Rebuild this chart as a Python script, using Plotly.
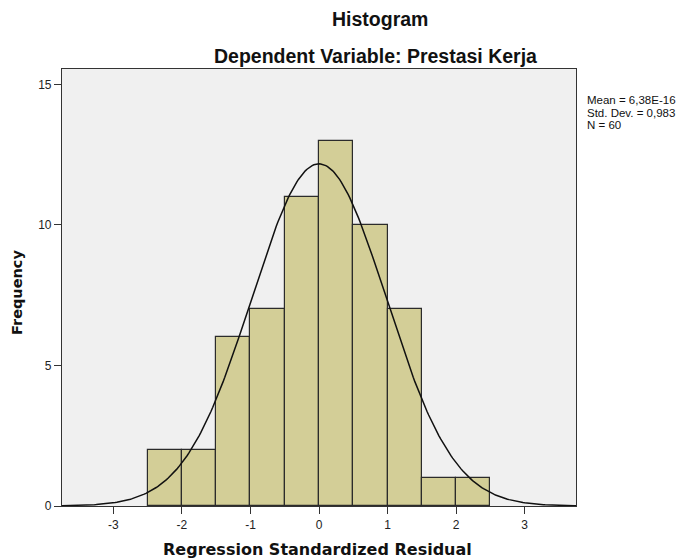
import numpy as np
import plotly.graph_objects as go

# Data
bin_centers = [-2.25, -1.75, -1.25, -0.75, -0.25, 0.25, 0.75, 1.25, 1.75, 2.25]
counts = [2, 2, 6, 7, 11, 13, 10, 7, 1, 1]
bin_width = 0.5
mean_val = 6.38e-16
std_dev = 0.983
n_obs = 60
x_ticks = [-3, -2, -1, 0, 1, 2, 3]
y_ticks = [0, 5, 10, 15]
stats_lines = ["Mean = 6,38E-16", "Std. Dev. = 0,983", "N = 60"]

# Fitted normal curve (from reported mean / sd / N)
xs = np.linspace(-3.75, 3.75, 301)
ys = n_obs * bin_width / (std_dev * np.sqrt(2 * np.pi)) * np.exp(-0.5 * ((xs - mean_val) / std_dev) ** 2)

fig = go.Figure()
fig.add_trace(go.Bar(
    x=bin_centers, y=counts, width=bin_width,
    marker=dict(color="#D3CE97", line=dict(color="#2b2b2b", width=1.2)),
    hoverinfo="x+y", showlegend=False,
))
fig.add_trace(go.Scatter(
    x=xs, y=ys, mode="lines",
    line=dict(color="#111111", width=1.5), showlegend=False, hoverinfo="skip",
))

font_family = "Liberation Sans, Arial, sans-serif"
title_family = "DejaVu Sans, Verdana, sans-serif"

annotations = [
    dict(text="<b>Histogram</b>", xref="paper", yref="paper",
         x=0.618, y=1.0, yshift=50, showarrow=False,
         font=dict(size=19.5), xanchor="center", yanchor="middle"),
    dict(text="<b>Dependent Variable: Prestasi Kerja</b>", xref="paper", yref="paper",
         x=0.609, y=1.0, yshift=13, showarrow=False,
         font=dict(size=19.5), xanchor="center", yanchor="middle"),
    dict(text="<b>Regression Standardized Residual</b>", xref="paper", yref="paper",
         x=0.498, y=0.0, yshift=-43, showarrow=False,
         font=dict(size=16, family=title_family), xanchor="center", yanchor="middle"),
    dict(text="<b>Frequency</b>", xref="paper", yref="paper",
         x=0.0, xshift=-45.5, y=0.5, yshift=-5, showarrow=False, textangle=-90,
         font=dict(size=14.5, family=title_family), xanchor="center", yanchor="middle"),
]
for i, line in enumerate(stats_lines):
    annotations.append(dict(
        text=line, xref="paper", yref="paper", x=1.0, xshift=9,
        y=1.0, yshift=-(31 + 12.5 * i), showarrow=False, align="left",
        font=dict(size=11.5), xanchor="left", yanchor="middle"))

fig.update_layout(
    width=693, height=560,
    margin=dict(l=62, r=117, t=69, b=54),
    paper_bgcolor="white", plot_bgcolor="#F0F0F0",
    font=dict(family=font_family, color="#111111"),
    bargap=0,
    xaxis=dict(
        range=[-3.75, 3.75], tickvals=x_ticks, ticktext=[str(t) for t in x_ticks],
        ticks="outside", ticklen=7, tickwidth=1, tickcolor="#333",
        showline=True, linecolor="#333", linewidth=1.2, mirror=True,
        showgrid=False, zeroline=False, automargin=False,
        tickfont=dict(size=12, color="#222"),
    ),
    yaxis=dict(
        range=[0, 15.55], tickvals=y_ticks,
        ticks="outside", ticklen=7, tickwidth=1, tickcolor="#333",
        showline=True, linecolor="#333", linewidth=1.2, mirror=True,
        showgrid=False, zeroline=False, automargin=False,
        tickfont=dict(size=12, color="#222"),
    ),
    annotations=annotations,
)

fig.write_html("out.html", config={"displayModeBar": False},
               post_script="document.body.style.margin='0';document.body.style.overflow='hidden';")
